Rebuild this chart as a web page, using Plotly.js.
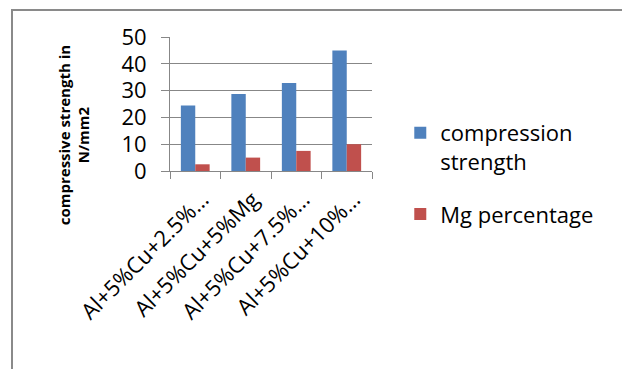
<!DOCTYPE html>
<html>
<head>
<meta charset="utf-8">
<script src="https://cdn.plot.ly/plotly-3.0.1.min.js"></script>
<style>
  html, body { margin: 0; padding: 0; width: 622px; height: 369px; overflow: hidden; background: #fff; }
  #frame { position: absolute; left: 11px; top: 9px; border-left: 2px solid #8a8a8a; border-top: 2px solid #8a8a8a; }
  #chart { width: 609px; height: 358px; }
</style>
</head>
<body>
<div id="frame"><div id="chart"></div></div>
<script>
// Alloy compositions (category labels as shown under the axis)
const categories = ["Al+5%Cu+2.5%…", "Al+5%Cu+5%Mg", "Al+5%Cu+7.5%…", "Al+5%Cu+10%…"];
// Compressive strength, N/mm2
const compressionStrength = [24.4, 28.7, 32.8, 45.0];
// Magnesium content, %
const mgPercentage = [2.5, 5, 7.5, 10];
const yTicks = [0, 10, 20, 30, 40, 50];

const gray = "#878787";
const font = "Open Sans, Noto Sans, sans-serif";

const traces = [
  {
    type: "bar", name: "compression<br>strength",
    x: categories, y: compressionStrength,
    marker: { color: "#4f81bd" }, legendgroup: "a"
  },
  {
    type: "bar", name: "Mg percentage",
    x: categories, y: mgPercentage,
    marker: { color: "#c0504d" }, legendgroup: "b"
  }
];

const layout = {
  width: 609, height: 358,
  margin: { l: 157, r: 250, t: 26, b: 198 },
  paper_bgcolor: "#fff", plot_bgcolor: "#fff",
  barmode: "group", bargap: 0.43, bargroupgap: 0,
  font: { family: font, color: "#000" },
  showlegend: true,
  legend: {
    x: 1.14, y: 0.44, xanchor: "left", yanchor: "top",
    font: { size: 22, family: font, color: "#000" },
    valign: "top", traceorder: "grouped", tracegroupgap: 21,
    bgcolor: "rgba(0,0,0,0)"
  },
  xaxis: {
    type: "category",
    tickson: "boundaries", ticks: "outside", ticklen: 7, tickcolor: gray,
    showline: true, linecolor: gray, linewidth: 1,
    tickangle: -45, tickfont: { size: 22, family: font, color: "#000" },
    ticklabelstandoff: 6, ticklabelshift: 7,
    showgrid: false
  },
  yaxis: {
    range: [0, 50], tickvals: yTicks, ticktext: yTicks.map(String),
    ticks: "outside", ticklen: 8, tickcolor: gray,
    showline: true, linecolor: gray, linewidth: 1,
    showgrid: true, gridcolor: gray, gridwidth: 1,
    zeroline: false,
    tickfont: { size: 22, family: font, color: "#000" },
    ticklabelstandoff: 10
  },
  annotations: [{
    text: "<b>compressive strength in<br>N/mm2</b>",
    xref: "paper", yref: "paper", x: -0.478, y: 0.27,
    xanchor: "center", yanchor: "middle", textangle: -90, showarrow: false,
    font: { size: 15, family: font, color: "#000" }
  }]
};

Plotly.newPlot("chart", traces, layout, { displayModeBar: false, staticPlot: true });
</script>
</body>
</html>
